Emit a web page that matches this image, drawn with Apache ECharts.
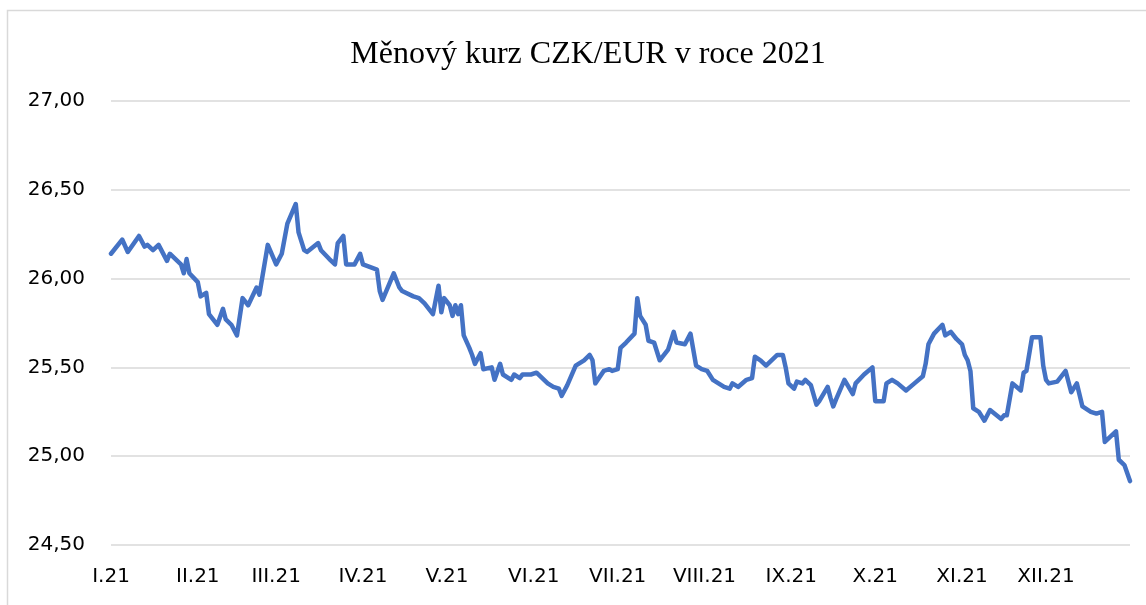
<!DOCTYPE html>
<html>
<head>
<meta charset="utf-8">
<title>Měnový kurz CZK/EUR v roce 2021</title>
<script src="https://cdn.jsdelivr.net/npm/echarts@6/dist/echarts.min.js"></script>
<style>
  html, body { margin: 0; padding: 0; background: #fff; }
  #kurzChart { width: 1146px; height: 605px; }
</style>
</head>
<body>
<div id="kurzChart"></div>
<script>
// den v roce (0 = 1. 1. 2021) a kurz CZK/EUR
const days = [
  0, 4, 6, 10, 12, 13, 15, 17, 20, 21, 25, 26, 27, 28, 31, 32, 34, 35, 38, 40,
  41, 43, 45, 47, 49, 52, 53, 56, 59, 61, 63, 66, 67, 69, 70, 74, 75, 78, 80, 81,
  83, 84, 87, 89, 90, 95, 96, 97, 101, 103, 104, 108, 110, 112, 115, 117, 118, 119, 121, 122,
  123, 124, 125, 126, 128, 129, 130, 132, 133, 136, 137, 139, 140, 143, 144, 146, 147, 150, 152, 156,
  158, 160, 161, 163, 166, 169, 171, 172, 173, 176, 178, 179, 181, 182, 184, 187, 188, 189, 191, 192,
  194, 196, 199, 201, 202, 205, 207, 209, 211, 213, 215, 217, 219, 221, 222, 224, 227, 229, 230, 232,
  234, 238, 240, 241, 242, 244, 245, 247, 248, 250, 252, 253, 256, 257, 258, 259, 262, 265, 266, 269,
  272, 273, 275, 276, 277, 279, 281, 284, 287, 290, 291, 292, 294, 297, 298, 300, 302, 304, 305, 306,
  307, 308, 310, 312, 314, 318, 319, 320, 322, 325, 326, 327, 329, 332, 333, 334, 335, 338, 341, 343,
  345, 347, 350, 352, 354, 355, 357, 359, 360, 362, 364
];
const rates = [
  26.14, 26.22, 26.15, 26.24, 26.18, 26.19, 26.16, 26.19, 26.10, 26.14, 26.08, 26.03, 26.11, 26.03, 25.98, 25.90, 25.92, 25.80, 25.74, 25.83,
  25.77, 25.74, 25.68, 25.89, 25.85, 25.95, 25.91, 26.19, 26.08, 26.14, 26.31, 26.42, 26.26, 26.16, 26.15, 26.20, 26.16, 26.11, 26.08, 26.20,
  26.24, 26.08, 26.08, 26.14, 26.08, 26.05, 25.93, 25.88, 26.03, 25.95, 25.93, 25.90, 25.89, 25.86, 25.80, 25.96, 25.81, 25.89, 25.85, 25.79,
  25.85, 25.80, 25.85, 25.68, 25.61, 25.57, 25.52, 25.58, 25.49, 25.50, 25.43, 25.52, 25.46, 25.43, 25.46, 25.44, 25.46, 25.46, 25.47, 25.41,
  25.39, 25.38, 25.34, 25.40, 25.51, 25.54, 25.57, 25.54, 25.41, 25.48, 25.49, 25.48, 25.49, 25.61, 25.64, 25.69, 25.89, 25.79, 25.74, 25.65,
  25.64, 25.54, 25.60, 25.70, 25.64, 25.63, 25.69, 25.51, 25.49, 25.48, 25.43, 25.41, 25.39, 25.38, 25.41, 25.39, 25.43, 25.44, 25.56, 25.54,
  25.51, 25.57, 25.57, 25.50, 25.41, 25.38, 25.42, 25.41, 25.43, 25.40, 25.29, 25.31, 25.39, 25.33, 25.28, 25.32, 25.43, 25.35, 25.41, 25.46,
  25.50, 25.31, 25.31, 25.31, 25.41, 25.43, 25.41, 25.37, 25.41, 25.45, 25.52, 25.63, 25.69, 25.74, 25.68, 25.70, 25.66, 25.63, 25.57, 25.54,
  25.48, 25.27, 25.25, 25.20, 25.26, 25.21, 25.23, 25.23, 25.41, 25.37, 25.47, 25.48, 25.67, 25.67, 25.51, 25.43, 25.41, 25.42, 25.48, 25.36,
  25.41, 25.28, 25.25, 25.24, 25.25, 25.08, 25.11, 25.14, 24.98, 24.95, 24.86
];
// začátky měsíců a popisky osy x
const monthStarts = [0, 31, 59, 90, 120, 151, 181, 212, 243, 273, 304, 334];
const monthLabels = ['I.21', 'II.21', 'III.21', 'IV.21', 'V.21', 'VI.21', 'VII.21', 'VIII.21', 'IX.21', 'X.21', 'XI.21', 'XII.21'];
const yTicks = [24.5, 25, 25.5, 26, 26.5, 27];

const chart = echarts.init(document.getElementById('kurzChart'), null, { renderer: 'canvas' });
const seriesData = days.map((d, i) => [d, rates[i]]);

chart.setOption({
  backgroundColor: '#fff',
  animation: false,
  graphic: [{
    type: 'rect',
    shape: { x: 7.5, y: 10.5, width: 1200, height: 700 },
    style: { fill: 'none', stroke: '#d9d9d9', lineWidth: 1.5 },
    silent: true
  }],
  title: {
    text: 'Měnový kurz CZK/EUR v roce 2021',
    left: 583,
    top: 34,
    textAlign: 'center',
    textStyle: {
      fontFamily: '"Liberation Serif", "Times New Roman", serif',
      fontSize: 32,
      fontWeight: 'normal',
      color: '#000'
    }
  },
  grid: {
    left: 111,
    right: 16,
    top: 101,
    bottom: 60,
    containLabel: false
  },
  xAxis: {
    type: 'value',
    min: 0,
    max: 364,
    axisLine: { show: false },
    axisTick: { show: false },
    splitLine: { show: false },
    axisLabel: {
      customValues: monthStarts,
      margin: 22,
      fontFamily: '"DejaVu Sans", sans-serif',
      fontSize: 20,
      color: '#000',
      formatter: function (v) {
        const i = monthStarts.indexOf(v);
        return i >= 0 ? monthLabels[i] : '';
      }
    }
  },
  yAxis: {
    type: 'value',
    min: yTicks[0],
    max: yTicks[yTicks.length - 1],
    interval: 0.5,
    axisLine: { show: false },
    axisTick: { show: false },
    splitLine: {
      lineStyle: { color: '#d9d9d9', width: 1.5 }
    },
    axisLabel: {
      margin: 26,
      fontFamily: '"DejaVu Sans", sans-serif',
      fontSize: 20,
      color: '#000',
      formatter: function (v) {
        return v.toFixed(2).replace('.', ',');
      }
    }
  },
  series: [{
    name: 'CZK/EUR',
    type: 'line',
    data: seriesData,
    showSymbol: false,
    smooth: false,
    lineStyle: {
      color: '#4472C4',
      width: 4.5,
      cap: 'round',
      join: 'round'
    }
  }]
});
</script>
</body>
</html>
